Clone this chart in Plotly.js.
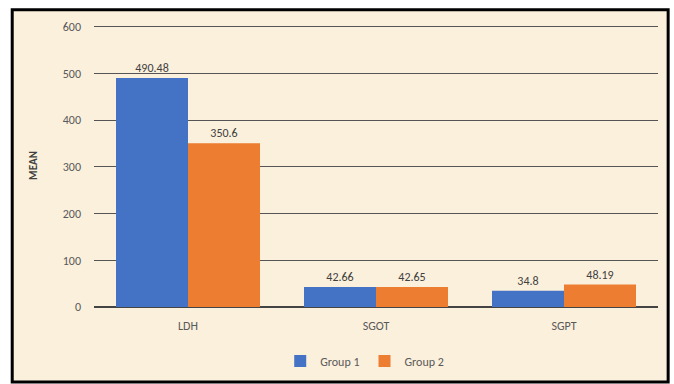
<!DOCTYPE html>
<html>
<head>
<meta charset="utf-8">
<script src="https://cdn.plot.ly/plotly-3.0.1.min.js"></script>
<style>html,body{margin:0;padding:0;background:#fff;}#chart{width:674px;height:384px;}</style>
</head>
<body>
<div id="chart"></div>
<script>
const categories = ["LDH", "SGOT", "SGPT"];
const group1 = [490.48, 42.66, 34.8];
const group2 = [350.6, 42.65, 48.19];
const seriesNames = ["Group 1", "Group 2"];
const yTicks = [0, 100, 200, 300, 400, 500, 600];

const font = {family: "Calibri, Carlito, 'Open Sans', 'Liberation Sans', sans-serif", size: 12, color: "#595959"};

const traces = [
  {type: "bar", name: seriesNames[0], x: categories, y: group1, marker: {color: "#4472C4"},
   text: group1.map(String), textposition: "outside", textfont: {size: 12, color: "#404040"}, cliponaxis: false},
  {type: "bar", name: seriesNames[1], x: categories, y: group2, marker: {color: "#ED7D31"},
   text: group2.map(String), textposition: "outside", textfont: {size: 12, color: "#404040"}, cliponaxis: false}
];

const layout = {
  width: 674, height: 384,
  margin: {l: 94, r: 16, t: 24, b: 77, autoexpand: false},
  paper_bgcolor: "#ffffff",
  plot_bgcolor: "rgba(0,0,0,0)",
  font: font,
  barmode: "group",
  bargap: 0.234,
  bargroupgap: 0,
  showlegend: true,
  legend: {orientation: "h", x: 0.48, xanchor: "center", y: -0.14, yanchor: "top", bgcolor: "rgba(0,0,0,0)",
    font: {size: 12, color: "#595959"}, itemwidth: 30, traceorder: "normal"},
  xaxis: {showgrid: false, zeroline: false, showline: false, ticks: "", ticklabelstandoff: 10,
    tickfont: {size: 12, color: "#595959"}},
  yaxis: {range: [0, 606], tickvals: yTicks, showgrid: true, gridcolor: "#555555", gridwidth: 1,
    zeroline: true, zerolinecolor: "#444444", zerolinewidth: 1.5, showline: false, ticks: "",
    ticklabelstandoff: 12,
    tickfont: {size: 12, color: "#595959"},
    title: {text: "<b>MEAN</b>", font: {size: 11, color: "#404040"}, standoff: 22}},
  shapes: [
    {type: "rect", xref: "paper", yref: "paper", x0: -0.145, x1: 1.018, y0: -0.265, y1: 1.05,
     fillcolor: "#FBF0DC", line: {color: "#000000", width: 3}, layer: "below"}
  ]
};

Plotly.newPlot("chart", traces, layout, {displayModeBar: false});
</script>
</body>
</html>
